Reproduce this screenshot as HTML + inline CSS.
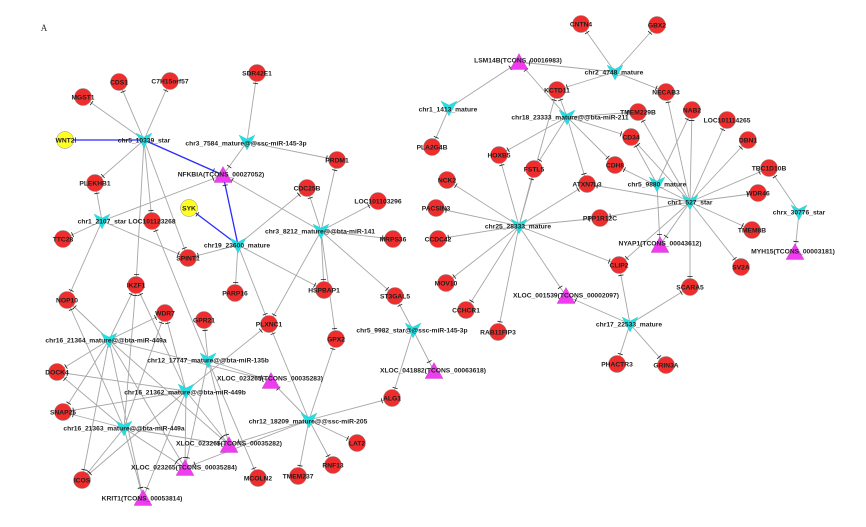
<!DOCTYPE html>
<html><head><meta charset="utf-8"><style>
html,body{margin:0;padding:0;background:#fff;}
svg{display:block;}
.e{stroke:#a6a6a6;stroke-width:0.9;fill:none;marker-end:url(#t);}
.b{stroke:#2b2bff;stroke-width:1.3;fill:none;marker-end:url(#t);}
.r{fill:#f02d2d;stroke:#8a8a8a;stroke-width:0.5;}
.y{fill:#ffff22;stroke:#8a8a8a;stroke-width:0.5;}
.v{fill:#1fe0e2;stroke:#4bb;stroke-width:0.3;}
.g{fill:#f03cf0;stroke:#a3a;stroke-width:0.3;}
text{font-family:"Liberation Sans",Arial,sans-serif;font-weight:bold;font-size:6.7px;fill:#1e1e1e;text-anchor:middle;}
</style></head><body>
<svg width="866" height="527" viewBox="0 0 866 527" xmlns="http://www.w3.org/2000/svg">
<defs>
<marker id="t" markerUnits="userSpaceOnUse" orient="auto" refX="0" refY="0" markerWidth="30" markerHeight="30" overflow="visible" viewBox="-15 -15 30 30"><path d="M-10.5,-2.6 L-10.5,2.6" stroke="#222" stroke-width="0.8"/></marker>
<polygon id="vee" points="-8,-7 0,-3 8,-7 0,8"/>
<polygon id="tri" points="0,-8.5 -9,7.5 9,7.5"/>
</defs>
<rect width="866" height="527" fill="#fff"/>
<text x="44" y="31" style="font-family:'Liberation Serif',serif;font-weight:normal;font-size:9px;fill:#333">A</text>

<!-- edges -->
<g>
<!-- chr5_10339 -->
<line class="e" x1="144" y1="140" x2="83" y2="97"/>
<line class="e" x1="144" y1="140" x2="119" y2="82"/>
<line class="e" x1="144" y1="140" x2="170" y2="81"/>
<line class="e" x1="144" y1="140" x2="95" y2="183"/>
<line class="e" x1="144" y1="140" x2="152" y2="221"/>
<line class="e" x1="144" y1="140" x2="136" y2="285"/>
<line class="e" x1="144" y1="140" x2="188" y2="258"/>
<!-- chr3_7584 -->
<line class="e" x1="247" y1="142" x2="257" y2="73"/>
<line class="e" x1="247" y1="142" x2="223" y2="175"/>
<line class="e" x1="247" y1="142" x2="337" y2="160"/>
<!-- chr1_2107 -->
<line class="e" x1="102" y1="221" x2="95" y2="183"/>
<line class="e" x1="102" y1="221" x2="63" y2="239"/>
<line class="e" x1="102" y1="221" x2="223" y2="175"/>
<line class="e" x1="102" y1="221" x2="188" y2="258"/>
<line class="e" x1="102" y1="221" x2="67" y2="300"/>
<!-- chr19_23600 -->
<line class="e" x1="238" y1="245" x2="188" y2="258"/>
<line class="e" x1="238" y1="245" x2="307" y2="188"/>
<line class="e" x1="238" y1="245" x2="235" y2="293"/>
<line class="e" x1="238" y1="245" x2="324" y2="290"/>
<line class="e" x1="238" y1="245" x2="269" y2="324"/>
<!-- chr3_8212 -->
<line class="e" x1="321" y1="231" x2="337" y2="160"/>
<line class="e" x1="321" y1="231" x2="307" y2="188"/>
<line class="e" x1="321" y1="231" x2="378" y2="201"/>
<line class="e" x1="321" y1="231" x2="393" y2="239"/>
<line class="e" x1="321" y1="231" x2="223" y2="175"/>
<line class="e" x1="321" y1="231" x2="324" y2="290"/>
<line class="e" x1="321" y1="231" x2="336" y2="339"/>
<line class="e" x1="321" y1="231" x2="395" y2="296"/>
<line class="e" x1="321" y1="231" x2="269" y2="324"/>
<!-- chr5_9982 -->
<line class="e" x1="413" y1="330" x2="395" y2="296"/>
<line class="e" x1="413" y1="330" x2="434" y2="371"/>
<line class="e" x1="413" y1="330" x2="392" y2="398"/>
<!-- chr12_18209 -->
<line class="e" x1="309" y1="420" x2="336" y2="339"/>
<line class="e" x1="309" y1="420" x2="392" y2="398"/>
<line class="e" x1="309" y1="420" x2="357" y2="443"/>
<line class="e" x1="309" y1="420" x2="333" y2="465"/>
<line class="e" x1="309" y1="420" x2="298" y2="476"/>
<line class="e" x1="309" y1="420" x2="269" y2="324"/>
<line class="e" x1="309" y1="420" x2="271" y2="381"/>
<line class="e" x1="309" y1="420" x2="229" y2="445"/>
<line class="e" x1="309" y1="420" x2="185" y2="468"/>
<!-- chr12_17747 -->
<line class="e" x1="208" y1="360" x2="204" y2="320"/>
<line class="e" x1="208" y1="360" x2="271" y2="381"/>
<line class="e" x1="208" y1="360" x2="229" y2="445"/>
<line class="e" x1="208" y1="360" x2="185" y2="468"/>
<line class="e" x1="208" y1="360" x2="152" y2="221"/>
<line class="e" x1="208" y1="360" x2="258" y2="478"/>
<!-- chr16_21364 -->
<line class="e" x1="109" y1="340" x2="67" y2="300"/>
<line class="e" x1="109" y1="340" x2="136" y2="285"/>
<line class="e" x1="109" y1="340" x2="165" y2="313"/>
<line class="e" x1="109" y1="340" x2="57" y2="372"/>
<line class="e" x1="109" y1="340" x2="63" y2="412"/>
<line class="e" x1="109" y1="340" x2="82" y2="480"/>
<line class="e" x1="109" y1="340" x2="143" y2="498"/>
<line class="e" x1="109" y1="340" x2="185" y2="468"/>
<line class="e" x1="109" y1="340" x2="229" y2="445"/>
<line class="e" x1="109" y1="340" x2="271" y2="381"/>
<!-- chr16_21362 -->
<line class="e" x1="186" y1="391" x2="136" y2="285"/>
<line class="e" x1="186" y1="391" x2="165" y2="313"/>
<line class="e" x1="186" y1="391" x2="57" y2="372"/>
<line class="e" x1="186" y1="391" x2="63" y2="412"/>
<line class="e" x1="186" y1="391" x2="82" y2="480"/>
<line class="e" x1="186" y1="391" x2="143" y2="498"/>
<line class="e" x1="186" y1="391" x2="185" y2="468"/>
<line class="e" x1="186" y1="391" x2="229" y2="445"/>
<line class="e" x1="186" y1="391" x2="269" y2="324"/>
<!-- chr16_21363 -->
<line class="e" x1="124" y1="428" x2="67" y2="300"/>
<line class="e" x1="124" y1="428" x2="136" y2="285"/>
<line class="e" x1="124" y1="428" x2="165" y2="313"/>
<line class="e" x1="124" y1="428" x2="57" y2="372"/>
<line class="e" x1="124" y1="428" x2="63" y2="412"/>
<line class="e" x1="124" y1="428" x2="82" y2="480"/>
<line class="e" x1="124" y1="428" x2="143" y2="498"/>
<line class="e" x1="124" y1="428" x2="185" y2="468"/>
<line class="e" x1="124" y1="428" x2="229" y2="445"/>
<!-- chr1_1413 -->
<line class="e" x1="449" y1="108" x2="519" y2="62"/>
<line class="e" x1="449" y1="108" x2="432" y2="147"/>
<!-- chr2_4748 -->
<line class="e" x1="615" y1="72" x2="581" y2="24"/>
<line class="e" x1="615" y1="72" x2="657" y2="25"/>
<line class="e" x1="615" y1="72" x2="666" y2="92"/>
<line class="e" x1="615" y1="72" x2="557" y2="90"/>
<line class="e" x1="615" y1="72" x2="519" y2="62"/>
<!-- chr18_23333 -->
<line class="e" x1="567" y1="117" x2="519" y2="62"/>
<line class="e" x1="567" y1="117" x2="557" y2="90"/>
<line class="e" x1="567" y1="117" x2="499" y2="155"/>
<line class="e" x1="567" y1="117" x2="534" y2="169"/>
<line class="e" x1="567" y1="117" x2="587" y2="184"/>
<line class="e" x1="567" y1="117" x2="615" y2="165"/>
<line class="e" x1="567" y1="117" x2="631" y2="137"/>
<line class="e" x1="567" y1="117" x2="638" y2="112"/>
<!-- chr25_28333 -->
<line class="e" x1="519" y1="226" x2="557" y2="90"/>
<line class="e" x1="519" y1="226" x2="499" y2="155"/>
<line class="e" x1="519" y1="226" x2="534" y2="169"/>
<line class="e" x1="519" y1="226" x2="447" y2="180"/>
<line class="e" x1="519" y1="226" x2="436" y2="208"/>
<line class="e" x1="519" y1="226" x2="438" y2="239"/>
<line class="e" x1="519" y1="226" x2="587" y2="184"/>
<line class="e" x1="519" y1="226" x2="600" y2="218"/>
<line class="e" x1="519" y1="226" x2="619" y2="265"/>
<line class="e" x1="519" y1="226" x2="446" y2="283"/>
<line class="e" x1="519" y1="226" x2="466" y2="310"/>
<line class="e" x1="519" y1="226" x2="498" y2="332"/>
<line class="e" x1="519" y1="226" x2="566" y2="296"/>
<!-- chr5_9880 -->
<line class="e" x1="657" y1="184" x2="631" y2="137"/>
<line class="e" x1="657" y1="184" x2="692" y2="110"/>
<line class="e" x1="657" y1="184" x2="660" y2="245"/>
<!-- chr1_527 -->
<line class="e" x1="690" y1="202" x2="638" y2="112"/>
<line class="e" x1="690" y1="202" x2="666" y2="92"/>
<line class="e" x1="690" y1="202" x2="692" y2="110"/>
<line class="e" x1="690" y1="202" x2="727" y2="120"/>
<line class="e" x1="690" y1="202" x2="748" y2="140"/>
<line class="e" x1="690" y1="202" x2="769" y2="168"/>
<line class="e" x1="690" y1="202" x2="758" y2="193"/>
<line class="e" x1="690" y1="202" x2="752" y2="230"/>
<line class="e" x1="690" y1="202" x2="741" y2="267"/>
<line class="e" x1="690" y1="202" x2="690" y2="287"/>
<line class="e" x1="690" y1="202" x2="660" y2="245"/>
<line class="e" x1="690" y1="202" x2="619" y2="265"/>
<line class="e" x1="690" y1="202" x2="600" y2="218"/>
<line class="e" x1="690" y1="202" x2="587" y2="184"/>
<line class="e" x1="690" y1="202" x2="631" y2="137"/>
<line class="e" x1="690" y1="202" x2="615" y2="165"/>
<!-- chrx_30776 -->
<line class="e" x1="799" y1="212" x2="769" y2="168"/>
<line class="e" x1="799" y1="212" x2="795" y2="252"/>
<!-- chr17_22533 -->
<line class="e" x1="630" y1="324" x2="619" y2="265"/>
<line class="e" x1="630" y1="324" x2="690" y2="287"/>
<line class="e" x1="630" y1="324" x2="566" y2="296"/>
<line class="e" x1="630" y1="324" x2="617" y2="364"/>
<line class="e" x1="630" y1="324" x2="666" y2="365"/>
<!-- blue -->
<line class="b" x1="144" y1="140" x2="65" y2="140"/>
<line class="b" x1="144" y1="140" x2="223" y2="175"/>
<line class="b" x1="238" y1="245" x2="189" y2="208"/>
<line class="b" x1="238" y1="245" x2="223" y2="175"/>
</g>

<!-- red nodes -->
<g>
<circle class="r" cx="119" cy="82" r="8.5"/>
<circle class="r" cx="170" cy="81" r="8.5"/>
<circle class="r" cx="257" cy="73" r="8.5"/>
<circle class="r" cx="83" cy="97" r="8.5"/>
<circle class="r" cx="95" cy="183" r="8.5"/>
<circle class="r" cx="152" cy="221" r="8.5"/>
<circle class="r" cx="63" cy="239" r="8.5"/>
<circle class="r" cx="188" cy="258" r="8.5"/>
<circle class="r" cx="337" cy="160" r="8.5"/>
<circle class="r" cx="307" cy="188" r="8.5"/>
<circle class="r" cx="378" cy="201" r="8.5"/>
<circle class="r" cx="393" cy="239" r="8.5"/>
<circle class="r" cx="235" cy="293" r="8.5"/>
<circle class="r" cx="324" cy="290" r="8.5"/>
<circle class="r" cx="395" cy="296" r="8.5"/>
<circle class="r" cx="204" cy="320" r="8.5"/>
<circle class="r" cx="269" cy="324" r="8.5"/>
<circle class="r" cx="136" cy="285" r="8.5"/>
<circle class="r" cx="67" cy="300" r="8.5"/>
<circle class="r" cx="165" cy="313" r="8.5"/>
<circle class="r" cx="57" cy="372" r="8.5"/>
<circle class="r" cx="63" cy="412" r="8.5"/>
<circle class="r" cx="82" cy="480" r="8.5"/>
<circle class="r" cx="258" cy="478" r="8.5"/>
<circle class="r" cx="336" cy="339" r="8.5"/>
<circle class="r" cx="392" cy="398" r="8.5"/>
<circle class="r" cx="357" cy="443" r="8.5"/>
<circle class="r" cx="333" cy="465" r="8.5"/>
<circle class="r" cx="298" cy="476" r="8.5"/>
<circle class="r" cx="446" cy="283" r="8.5"/>
<circle class="r" cx="466" cy="310" r="8.5"/>
<circle class="r" cx="498" cy="332" r="8.5"/>
<circle class="r" cx="581" cy="24" r="8.5"/>
<circle class="r" cx="657" cy="25" r="8.5"/>
<circle class="r" cx="557" cy="90" r="8.5"/>
<circle class="r" cx="432" cy="147" r="8.5"/>
<circle class="r" cx="499" cy="155" r="8.5"/>
<circle class="r" cx="534" cy="169" r="8.5"/>
<circle class="r" cx="447" cy="180" r="8.5"/>
<circle class="r" cx="436" cy="208" r="8.5"/>
<circle class="r" cx="438" cy="239" r="8.5"/>
<circle class="r" cx="666" cy="92" r="8.5"/>
<circle class="r" cx="638" cy="112" r="8.5"/>
<circle class="r" cx="692" cy="110" r="8.5"/>
<circle class="r" cx="727" cy="120" r="8.5"/>
<circle class="r" cx="631" cy="137" r="8.5"/>
<circle class="r" cx="748" cy="140" r="8.5"/>
<circle class="r" cx="615" cy="165" r="8.5"/>
<circle class="r" cx="769" cy="168" r="8.5"/>
<circle class="r" cx="587" cy="184" r="8.5"/>
<circle class="r" cx="758" cy="193" r="8.5"/>
<circle class="r" cx="600" cy="218" r="8.5"/>
<circle class="r" cx="752" cy="230" r="8.5"/>
<circle class="r" cx="619" cy="265" r="8.5"/>
<circle class="r" cx="741" cy="267" r="8.5"/>
<circle class="r" cx="690" cy="287" r="8.5"/>
<circle class="r" cx="617" cy="364" r="8.5"/>
<circle class="r" cx="666" cy="365" r="8.5"/>
<circle class="y" cx="65" cy="140" r="8.5"/>
<circle class="y" cx="189" cy="208" r="8.5"/>
</g>

<!-- lncRNA triangles -->
<g class="g">
<use href="#tri" x="223" y="175"/>
<use href="#tri" x="271" y="381"/>
<use href="#tri" x="229" y="445"/>
<use href="#tri" x="185" y="468"/>
<use href="#tri" x="143" y="498"/>
<use href="#tri" x="434" y="371"/>
<use href="#tri" x="566" y="296"/>
<use href="#tri" x="519" y="62"/>
<use href="#tri" x="660" y="245"/>
<use href="#tri" x="795" y="252"/>
</g>

<!-- miRNA vees -->
<g class="v">
<use href="#vee" x="144" y="140"/>
<use href="#vee" x="247" y="142"/>
<use href="#vee" x="102" y="221"/>
<use href="#vee" x="238" y="245"/>
<use href="#vee" x="321" y="231"/>
<use href="#vee" x="413" y="330"/>
<use href="#vee" x="309" y="420"/>
<use href="#vee" x="208" y="360"/>
<use href="#vee" x="109" y="340"/>
<use href="#vee" x="186" y="391"/>
<use href="#vee" x="124" y="428"/>
<use href="#vee" x="449" y="108"/>
<use href="#vee" x="615" y="72"/>
<use href="#vee" x="567" y="117"/>
<use href="#vee" x="519" y="226"/>
<use href="#vee" x="657" y="184"/>
<use href="#vee" x="690" y="202"/>
<use href="#vee" x="799" y="212"/>
<use href="#vee" x="630" y="324"/>
</g>

<!-- labels -->
<g>
<text x="119" y="84.4">CDS1</text>
<text x="170" y="83.4">C7H15orf57</text>
<text x="257" y="75.4">SDR42E1</text>
<text x="83" y="99.4">MGST1</text>
<text x="95" y="185.4">PLEKHB1</text>
<text x="152" y="223.4">LOC101123268</text>
<text x="63" y="241.4">TTC28</text>
<text x="188" y="260.4">SPINT1</text>
<text x="337" y="162.4">PRDM1</text>
<text x="307" y="190.4">CDC25B</text>
<text x="378" y="203.4">LOC101103296</text>
<text x="393" y="241.4">MRPS36</text>
<text x="235" y="295.4">PARP16</text>
<text x="324" y="292.4">HSPBAP1</text>
<text x="395" y="298.4">ST3GAL5</text>
<text x="204" y="322.4">GPR21</text>
<text x="269" y="326.4">PLXNC1</text>
<text x="136" y="287.4">IKZF1</text>
<text x="67" y="302.4">NOP10</text>
<text x="165" y="315.4">WDR7</text>
<text x="57" y="374.4">DOCK4</text>
<text x="63" y="414.4">SNAP25</text>
<text x="82" y="482.4">ICOS</text>
<text x="258" y="480.4">MCOLN2</text>
<text x="336" y="341.4">GPX2</text>
<text x="392" y="400.4">ALG1</text>
<text x="357" y="445.4">LAT2</text>
<text x="333" y="467.4">RNF13</text>
<text x="298" y="478.4">TMEM237</text>
<text x="446" y="285.4">MOV10</text>
<text x="466" y="312.4">CCHCR1</text>
<text x="498" y="334.4">RAB11FIP3</text>
<text x="581" y="26.4">CNTN4</text>
<text x="657" y="27.4">GBX2</text>
<text x="557" y="92.4">KCTD11</text>
<text x="432" y="149.4">PLA2G4B</text>
<text x="499" y="157.4">HOXB5</text>
<text x="534" y="171.4">FSTL5</text>
<text x="447" y="182.4">NCK2</text>
<text x="436" y="210.4">PACSIN3</text>
<text x="438" y="241.4">CCDC42</text>
<text x="666" y="94.4">NECAB3</text>
<text x="638" y="114.4">TMEM229B</text>
<text x="692" y="112.4">NAB2</text>
<text x="727" y="122.4">LOC101114265</text>
<text x="631" y="139.4">CD34</text>
<text x="748" y="142.4">DBN1</text>
<text x="615" y="167.4">CDH8</text>
<text x="769" y="170.4">TBC1D10B</text>
<text x="587" y="186.4">ATXN7L3</text>
<text x="758" y="195.4">WDR46</text>
<text x="600" y="220.4">PPP1R12C</text>
<text x="752" y="232.4">TMEM8B</text>
<text x="619" y="267.4">CLIP2</text>
<text x="741" y="269.4">SV2A</text>
<text x="690" y="289.4">SCARA5</text>
<text x="617" y="366.4">PHACTR3</text>
<text x="666" y="367.4">GRIN3A</text>
<text x="65" y="142.4">WNT2</text>
<text x="189" y="210.4">SYK</text>

<text x="221" y="176.4">NFKBIA(TCONS_00027052)</text>
<text x="270" y="380.4">XLOC_023265(TCONS_00035283)</text>
<text x="229" y="445.4">XLOC_023265(TCONS_00035282)</text>
<text x="184" y="469.4">XLOC_023265(TCONS_00035284)</text>
<text x="142" y="500.4">KRIT1(TCONS_00053814)</text>
<text x="433" y="372.4">XLOC_041882(TCONS_00063618)</text>
<text x="566" y="297.4">XLOC_001539(TCONS_00002097)</text>
<text x="518" y="62.4">LSM14B(TCONS_00016983)</text>
<text x="660" y="245.4">NYAP1(TCONS_00043612)</text>
<text x="793" y="253.4">MYH15(TCONS_00003181)</text>

<text x="144" y="142.4">chr5_10339_star</text>
<text x="246" y="145.4">chr3_7584_mature@@ssc-miR-145-3p</text>
<text x="102" y="223.4">chr1_2107_star</text>
<text x="237" y="247.4">chr19_23600_mature</text>
<text x="320" y="233.4">chr3_8212_mature@@bta-miR-141</text>
<text x="412" y="332.4">chr5_9982_star@@ssc-miR-145-3p</text>
<text x="308" y="423.4">chr12_18209_mature@@ssc-miR-205</text>
<text x="208" y="362.4">chr12_17747_mature@@bta-miR-135b</text>
<text x="106" y="342.4">chr16_21364_mature@@bta-miR-449a</text>
<text x="185" y="394.4">chr16_21362_mature@@bta-miR-449b</text>
<text x="124" y="430.4">chr16_21363_mature@@bta-miR-449a</text>
<text x="448" y="111.4">chr1_1413_mature</text>
<text x="614" y="74.4">chr2_4748_mature</text>
<text x="570" y="119.4">chr18_23333_mature@@bta-miR-211</text>
<text x="518" y="228.4">chr25_28333_mature</text>
<text x="657" y="186.4">chr5_9880_mature</text>
<text x="690" y="204.4">chr1_527_star</text>
<text x="799" y="214.4">chrx_30776_star</text>
<text x="629" y="326.4">chr17_22533_mature</text>
</g>
</svg>
</body></html>
